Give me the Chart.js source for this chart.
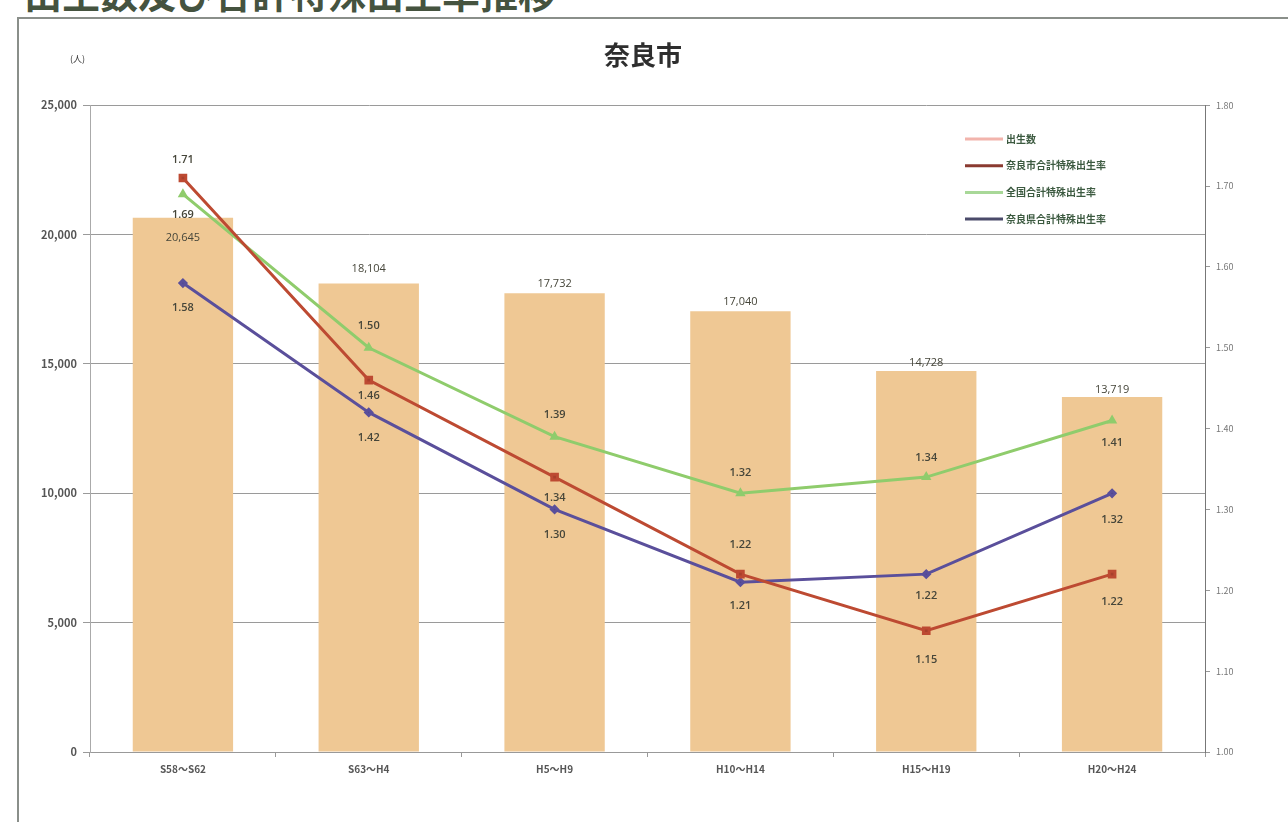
<!DOCTYPE html>
<html lang="ja">
<head>
<meta charset="utf-8">
<title>奈良市 出生数及び合計特殊出生率推移</title>
<script src="https://cdn.jsdelivr.net/npm/chart.js@4.4.1/dist/chart.umd.min.js"></script>
<style>
  body { margin: 0; background: #fff; width: 1288px; height: 822px; overflow: hidden; position: relative;
         font-family: "Noto Sans CJK JP", "Noto Sans", sans-serif; }
  #heading { position: absolute; left: 24px; top: -31px; font-size: 38px; font-weight: bold; color: #45533f;
             white-space: nowrap; line-height: 1.2; }
  #frame { position: absolute; left: 17px; top: 17px; width: 1280px; height: 820px;
           border-left: 2px solid #8a8f8a; border-top: 2px solid #8a8f8a; }
  #wrap { position: absolute; left: 0; top: 0; width: 1288px; height: 822px; }
</style>
</head>
<body>
<div id="heading">出生数及び合計特殊出生率推移</div>
<div id="frame"></div>
<div id="wrap"><canvas id="chart"></canvas></div>
<script>
// data
var categories = ['S58～S62', 'S63～H4', 'H5～H9', 'H10～H14', 'H15～H19', 'H20～H24'];
var births = [20645, 18104, 17732, 17040, 14728, 13719];
var naraCityTfr = [1.71, 1.46, 1.34, 1.22, 1.15, 1.22];
var nationalTfr = [1.69, 1.50, 1.39, 1.32, 1.34, 1.41];
var naraPrefTfr = [1.58, 1.42, 1.30, 1.21, 1.22, 1.32];
var leftTicks = [0, 5000, 10000, 15000, 20000, 25000];
var rightTicks = [1.0, 1.1, 1.2, 1.3, 1.4, 1.5, 1.6, 1.7, 1.8];

// where each value label sits, relative to its point (px)
var labelShift = {
  births: [20, -15, -9, -9, -8, -7],
  city: [-18, 16, 21, -29, 29, 28],
  national: [21, -22, -22, -20, -19, 22],
  pref: [25, 25, 25, 24, 22, 27]
};

var textColor = '#46463a';

var valueLabels = {
  id: 'valueLabels',
  afterDatasetsDraw: function (chart) {
    var ctx = chart.ctx;
    ctx.save();
    ctx.textAlign = 'center';
    ctx.textBaseline = 'middle';
    ctx.fillStyle = textColor;
    chart.data.datasets.forEach(function (ds, i) {
      var meta = chart.getDatasetMeta(i);
      meta.data.forEach(function (el, j) {
        var v = ds.data[j];
        var txt = ds.type === 'bar' ? v.toLocaleString('en-US') : v.toFixed(2);
        ctx.font = ds.type === 'bar' ? '11px "Open Sans", sans-serif' : '600 11px "Open Sans", sans-serif';
        ctx.fillText(txt, el.x, el.y + ds.shift[j]);
      });
    });
    ctx.restore();
  }
};

var extras = {
  id: 'extras',
  afterDraw: function (chart) {
    var ctx = chart.ctx;
    ctx.save();
    ctx.fillStyle = '#3a3a3a';
    ctx.font = '9px "Noto Sans CJK JP", sans-serif';
    ctx.textAlign = 'left';
    ctx.textBaseline = 'middle';
    ctx.fillText('(人)', 70, 59);
    // legend, top right inside the plot
    var x0 = 965, y0 = 139, gap = 26.7;
    chart.data.datasets.forEach(function (ds, i) {
      var y = y0 + i * gap;
      ctx.strokeStyle = ds.legendColor;
      ctx.lineWidth = 3;
      ctx.beginPath();
      ctx.moveTo(x0, y);
      ctx.lineTo(x0 + 38, y);
      ctx.stroke();
      ctx.fillStyle = '#3c5a40';
      ctx.font = 'bold 10px "Noto Sans CJK JP", sans-serif';
      ctx.fillText(ds.label, x0 + 41, y);
    });
    ctx.restore();
  }
};

Chart.defaults.font.family = '"Noto Sans CJK JP", "Noto Sans", sans-serif';
Chart.defaults.color = '#555';

new Chart(document.getElementById('chart').getContext('2d'), {
  type: 'bar',
  data: {
    labels: categories,
    datasets: [{
      type: 'bar',
      label: '出生数',
      data: births,
      yAxisID: 'y',
      backgroundColor: '#efc894',
      legendColor: '#f2b4ac',
      barPercentage: 0.54,
      categoryPercentage: 1.0,
      shift: labelShift.births,
      order: 10
    }, {
      type: 'line',
      label: '奈良市合計特殊出生率',
      data: naraCityTfr,
      yAxisID: 'y1',
      borderColor: '#bd4a32',
      backgroundColor: '#a8402c',
      legendColor: '#8a3a30',
      borderWidth: 3,
      pointStyle: 'rect',
      pointRadius: 4,
      shift: labelShift.city,
      order: 1
    }, {
      type: 'line',
      label: '全国合計特殊出生率',
      data: nationalTfr,
      yAxisID: 'y1',
      borderColor: '#8fcc6c',
      backgroundColor: '#7cbf58',
      legendColor: '#a8d898',
      borderWidth: 3,
      pointStyle: 'triangle',
      pointRadius: 3,
      shift: labelShift.national,
      order: 2
    }, {
      type: 'line',
      label: '奈良県合計特殊出生率',
      data: naraPrefTfr,
      yAxisID: 'y1',
      borderColor: '#5a4f9b',
      backgroundColor: '#4f4590',
      legendColor: '#4a4a6a',
      borderWidth: 3,
      pointStyle: 'rectRot',
      pointRadius: 3,
      shift: labelShift.pref,
      order: 3
    }]
  },
  options: {
    responsive: true,
    maintainAspectRatio: false,
    animation: false,
    layout: { padding: { top: 2, left: 18, right: 20, bottom: 30 } },
    plugins: {
      legend: { display: false },
      tooltip: { enabled: false },
      title: {
        display: true,
        text: '奈良市',
        color: '#2e2e2e',
        font: { size: 26, weight: 'bold' },
        padding: { top: 38, bottom: 34 }
      }
    },
    scales: {
      x: {
        offset: true,
        grid: { display: true, drawOnChartArea: false, offset: true, tickLength: 5, color: '#999' },
        border: { color: '#999' },
        ticks: { padding: 6, color: '#555', font: { size: 10, weight: 'bold' } },
        afterFit: function (s) { s.height = 40; }
      },
      y: {
        position: 'left',
        min: leftTicks[0],
        max: leftTicks[leftTicks.length - 1],
        ticks: {
          stepSize: leftTicks[1] - leftTicks[0],
          color: '#555',
          padding: 6,
          font: { size: 11, weight: 'bold' },
          callback: function (v) { return v.toLocaleString('en-US'); }
        },
        grid: { color: '#9a9a9a', tickLength: 7 },
        border: { color: '#aaa' },
        afterFit: function (s) { s.width = 72; }
      },
      y1: {
        position: 'right',
        min: rightTicks[0],
        max: rightTicks[rightTicks.length - 1],
        ticks: {
          stepSize: 0.1,
          color: '#777',
          padding: 6,
          font: { size: 9 },
          callback: function (v) { return v.toFixed(2); }
        },
        grid: { drawOnChartArea: false, tickLength: 5, color: '#999' },
        border: { color: '#777' },
        afterFit: function (s) { s.width = 63; }
      }
    }
  },
  plugins: [valueLabels, extras]
});
</script>
</body>
</html>
